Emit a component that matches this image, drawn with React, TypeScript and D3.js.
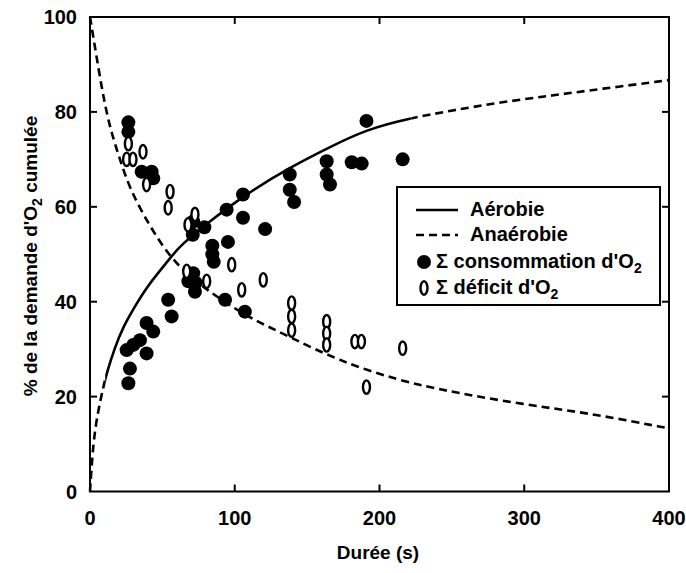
import React from 'react';
import * as d3 from 'd3';

type P = [number, number];

const xTicks = [0, 100, 200, 300, 400];
const yTicks = [0, 20, 40, 60, 80, 100];

const aerobicCurve: P[] = [
  [0, 0], [2.3, 10.8], [5.7, 17.1], [9.2, 22], [11.5, 24.9], [17.3, 30.5], [23, 34.7], [30, 38.5],
  [40, 43.5], [55, 49], [62, 51.8], [85, 57.5], [107, 62.5], [138, 68.3], [165, 72.5], [191, 76.3],
  [220, 78.6], [250, 80.3], [283, 82], [320, 83.5], [352, 84.8], [400, 86.7],
];

const anaerobicCurve: P[] = [
  [0, 100], [1.2, 97.8], [4.6, 91.5], [8.1, 85.1], [11.5, 79.8], [15, 75.5], [20, 70.6], [27.6, 63.6],
  [41.5, 55.8], [55, 49.5], [70, 45], [87.7, 41], [110, 36.6], [138, 32.6], [170.6, 27.7], [214, 23.3],
  [250, 21], [283, 19.2], [320, 17.5], [352, 16.1], [400, 13.3],
];

const consommation: P[] = [
  [26.5, 77.8], [26.5, 75.8], [35.7, 67.4], [42.6, 67.4], [43.7, 66.0],
  [71, 54.1], [71.3, 56.9], [79, 55.7], [94.4, 59.4], [105.7, 62.6], [105.7, 57.7], [121, 55.3], [95.3, 52.6],
  [84.5, 51.8], [84.5, 50], [85.5, 48.4],
  [71.3, 46], [68, 44.3], [73, 44], [72.5, 42.1],
  [93.3, 40.4], [107, 37.9],
  [54, 40.4], [56.4, 36.9],
  [39.1, 35.5], [43.7, 33.7], [34.5, 31.9], [29.9, 30.9], [25.3, 29.8], [39.1, 29.1],
  [27.6, 25.9], [26.5, 22.8],
  [138, 66.8], [138, 63.6], [141, 61],
  [163.5, 69.6], [163.5, 66.8], [165.8, 64.7],
  [180.8, 69.4], [187.7, 69.1],
  [191, 78.1], [216, 70],
];

const deficit: P[] = [
  [26.5, 73.3], [25.3, 70], [29.7, 70], [36.6, 71.6], [39.1, 64.7],
  [55.3, 63.2], [54, 59.8], [72.5, 58.4], [67.7, 56.2],
  [66.8, 46.4], [80.6, 44.3], [97.9, 47.8], [104.8, 42.5], [119.7, 44.6],
  [139.3, 39.7], [139.3, 36.9], [139.3, 34],
  [163.5, 35.8], [163.5, 33.3], [163.5, 30.9],
  [183, 31.6], [187.5, 31.6],
  [216, 30.2], [191, 22],
];

const legendLabels = ['Aérobie', 'Anaérobie', 'Σ consommation d\'O', 'Σ déficit d\'O'];

const FONT = "'Liberation Sans', Arial, Helvetica, sans-serif";

export default function App() {
  const W = 686, H = 573;
  const x = d3.scaleLinear().domain([0, 400]).range([90, 669]);
  const y = d3.scaleLinear().domain([0, 100]).range([491.5, 17]);
  const line = d3.line<P>().x(d => x(d[0])).y(d => y(d[1])).curve(d3.curveBasis);
  const aeroPath = line(aerobicCurve) || '';
  const anaPath = line(anaerobicCurve) || '';
  const solidStart = x(10.5), solidEnd = x(222);
  const dash = '8,5';
  const sw = 2.6;
  const [x0, x1] = x.range();
  const [y0, y1] = y.range();

  const legX = 397, legY = 187, legW = 263, legH = 118;
  const rx = 3.5, ry = 6.7;

  return (
    <svg width={W} height={H} style={{ position: 'absolute', left: 0, top: 0, background: '#fff' }}
      fontFamily={FONT} fontWeight="bold">
      <defs>
        <clipPath id="solidClip"><rect x={solidStart} y={0} width={solidEnd - solidStart} height={H} /></clipPath>
        <clipPath id="dashClip">
          <rect x={0} y={0} width={solidStart} height={H} />
          <rect x={solidEnd} y={0} width={W - solidEnd} height={H} />
        </clipPath>
      </defs>
      <rect width={W} height={H} fill="#fff" />

      {/* curves */}
      <path d={aeroPath} fill="none" stroke="#000" strokeWidth={sw} clipPath="url(#solidClip)" />
      <path d={aeroPath} fill="none" stroke="#000" strokeWidth={sw} strokeDasharray={dash} clipPath="url(#dashClip)" />
      <path d={anaPath} fill="none" stroke="#000" strokeWidth={sw} strokeDasharray={dash} />

      {/* points */}
      {consommation.map((d, i) => (
        <circle key={'c' + i} cx={x(d[0])} cy={y(d[1])} r={7} fill="#000" />
      ))}
      {deficit.map((d, i) => (
        <ellipse key={'d' + i} cx={x(d[0])} cy={y(d[1])} rx={rx} ry={ry} fill="#fff" stroke="#000" strokeWidth={2.4} />
      ))}

      {/* frame */}
      <rect x={x0} y={y1} width={x1 - x0} height={y0 - y1} fill="none" stroke="#000" strokeWidth={2} />
      {yTicks.slice(1, -1).map(t => (
        <g key={'yt' + t}>
          <line x1={x0} x2={x0 + 7} y1={y(t)} y2={y(t)} stroke="#000" strokeWidth={2} />
          <line x1={x1} x2={x1 - 7} y1={y(t)} y2={y(t)} stroke="#000" strokeWidth={2} />
        </g>
      ))}
      {xTicks.slice(1, -1).map(t => (
        <g key={'xt' + t}>
          <line x1={x(t)} x2={x(t)} y1={y0} y2={y0 - 7} stroke="#000" strokeWidth={2} />
          <line x1={x(t)} x2={x(t)} y1={y1} y2={y1 + 7} stroke="#000" strokeWidth={2} />
        </g>
      ))}
      {yTicks.map(t => (
        <text key={'yl' + t} x={77} y={y(t)} dy="0.36em" textAnchor="end" fontSize={20}>{t}</text>
      ))}
      {xTicks.map(t => (
        <text key={'xl' + t} x={x(t)} y={525} textAnchor="middle" fontSize={20}>{t}</text>
      ))}

      <text x={378} y={559} textAnchor="middle" fontSize={19}>Durée (s)</text>
      <text transform={`translate(37, 256) rotate(-90)`} textAnchor="middle" fontSize={19}>
        % de la demande d'O<tspan fontSize={14} dy={5}>2</tspan><tspan dy={-5}> cumulée</tspan>
      </text>

      {/* legend */}
      <rect x={legX} y={legY} width={legW} height={legH} fill="#fff" stroke="#000" strokeWidth={2} />
      <line x1={416} x2={458} y1={210} y2={210} stroke="#000" strokeWidth={sw} />
      <text x={470} y={216} fontSize={20}>{legendLabels[0]}</text>
      <line x1={416} x2={458} y1={235} y2={235} stroke="#000" strokeWidth={sw} strokeDasharray={dash} />
      <text x={470} y={241} fontSize={20}>{legendLabels[1]}</text>
      <circle cx={424} cy={262} r={7} fill="#000" />
      <text x={436} y={268} fontSize={20}>{legendLabels[2]}<tspan fontSize={14} dy={5}>2</tspan></text>
      <ellipse cx={424} cy={288} rx={rx} ry={ry} fill="#fff" stroke="#000" strokeWidth={2.4} />
      <text x={436} y={294} fontSize={20}>{legendLabels[3]}<tspan fontSize={14} dy={5}>2</tspan></text>
    </svg>
  );
}
